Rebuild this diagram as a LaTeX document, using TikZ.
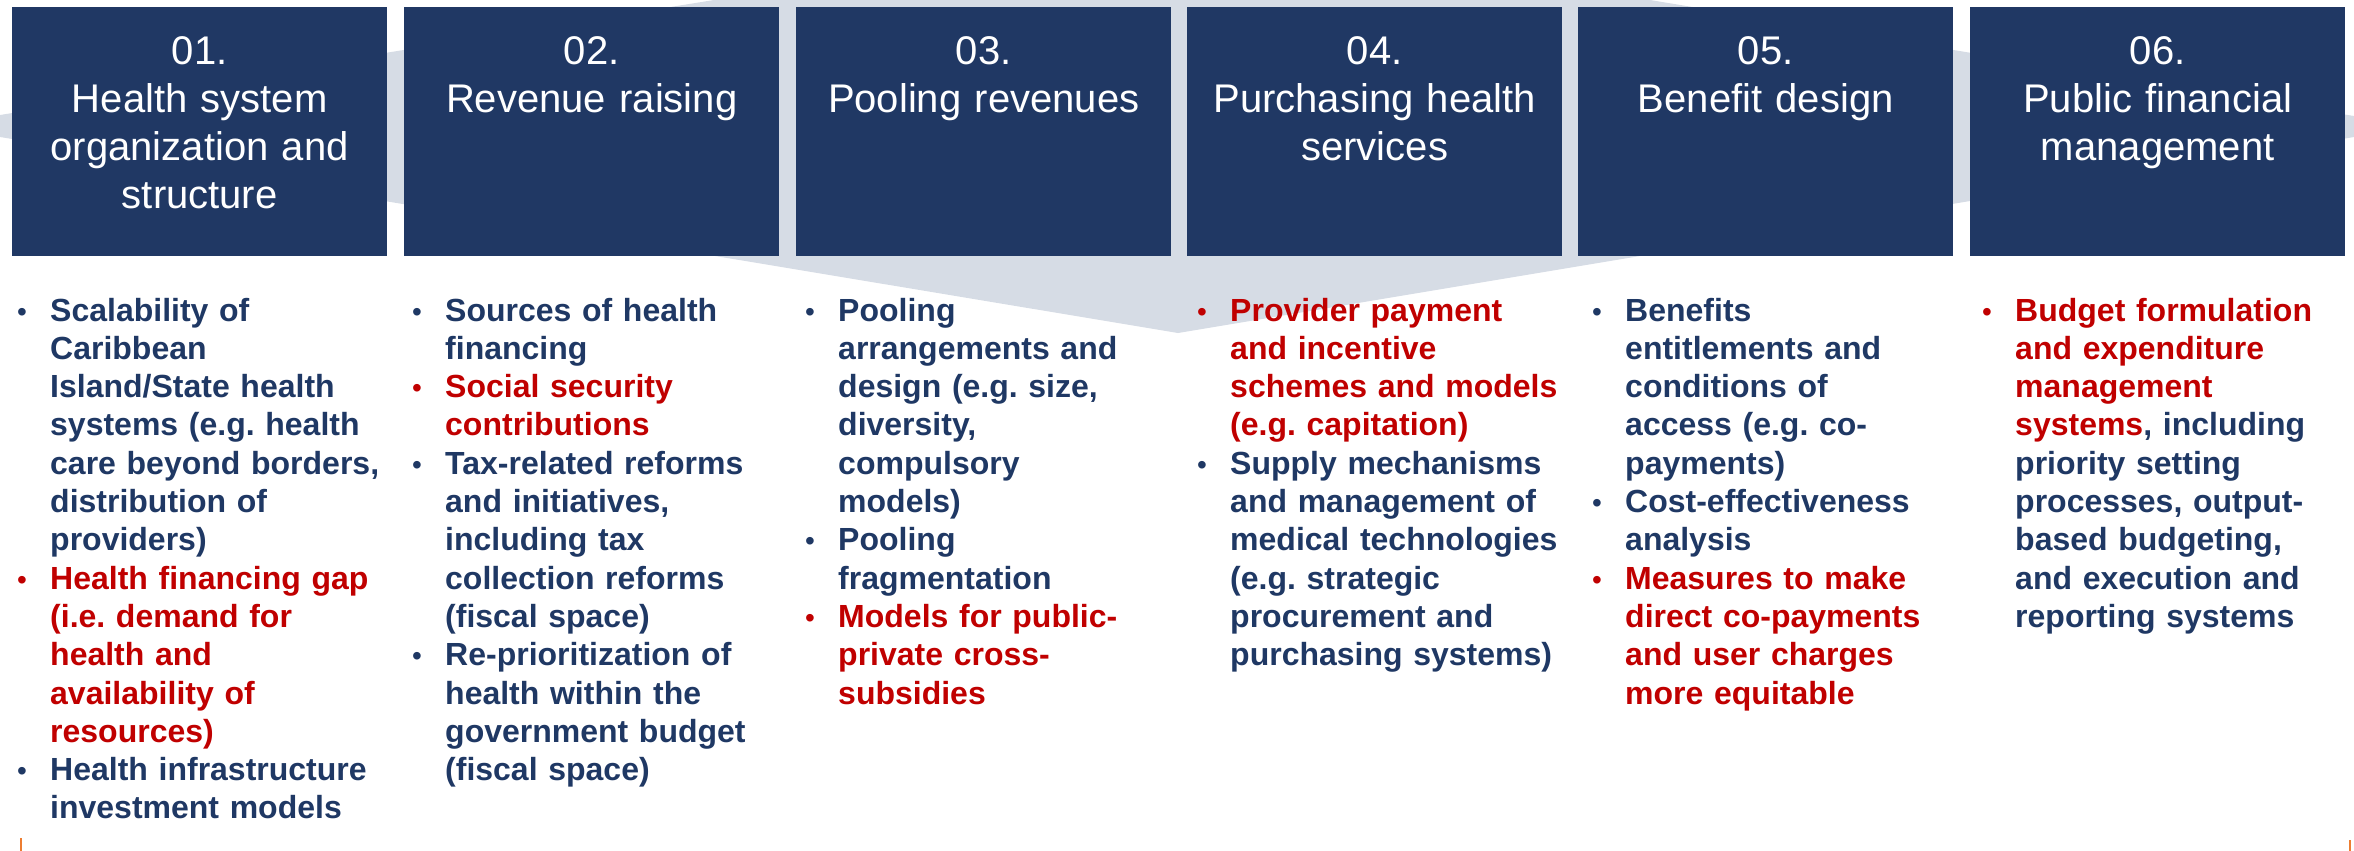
\documentclass[tikz,border=0pt]{standalone}
\usepackage{fontspec}
\setmainfont{Liberation Sans}
\usetikzlibrary{positioning}

\definecolor{navy}{HTML}{203864}
\definecolor{inkblue}{HTML}{1F3864}
\definecolor{alertred}{HTML}{C00000}
\definecolor{veilgrey}{HTML}{D6DCE5}
\definecolor{tickorange}{HTML}{ED7D31}

\begin{document}
\frenchspacing
\begin{tikzpicture}
    [
    x=1pt,
    y=-1pt,
    head/.style={
        rectangle,
        fill=navy,
        minimum width=375pt,
        minimum height=249pt,
        inner sep=0pt,
        anchor=north west
    },
    title/.style={text=white, text width=375pt, align=center, inner sep=0pt, anchor=base,
        font=\fontsize{40}{48}\selectfont},
    itm/.style={anchor=base west, text width=350pt, align=left, inner sep=0pt,
        font=\fontsize{32}{38.3}\selectfont\bfseries\frenchspacing},
    plain/.style={itm, text=inkblue},
    hot/.style={itm, text=alertred},
    dot/.style={anchor=base west, inner sep=0pt, font=\fontsize{28}{28}\selectfont},
    tick/.style={draw=tickorange, line width=2pt}
    ]

    \useasboundingbox (0,0) rectangle (2354,851);

% Background arrow
    \fill[veilgrey] (0,115) -- (714,0) -- (1650,0) -- (2354,116) -- (2354,137) -- (1178,333) -- (0,137) -- cycle;

% Headers
    \node[head] (h1) at (12,7) {};
    \node[head] (h2) at (404,7) {};
    \node[head] (h3) at (796,7) {};
    \node[head] (h4) at (1187,7) {};
    \node[head] (h5) at (1578,7) {};
    \node[head] (h6) at (1970,7) {};

    \node[title] (t1) at ([yshift=-58pt]h1.north) {01.\\Health system\\organization and\\structure};
    \node[title] (t2) at ([yshift=-58pt]h2.north) {02.\\Revenue raising};
    \node[title] (t3) at ([yshift=-58pt]h3.north) {03.\\Pooling revenues};
    \node[title] (t4) at ([yshift=-58pt]h4.north) {04.\\Purchasing health\\services};
    \node[title] (t5) at ([yshift=-58pt]h5.north) {05.\\Benefit design};
    \node[title] (t6) at ([yshift=-58pt]h6.north) {06.\\Public financial\\management};

% Column 1
    \node[dot, text=inkblue] (d1a) at (17,321) {•};
    \node[plain] (i1a) at (50,321) {Scalability of\\Caribbean\\Island/State health\\systems (e.g. health\\care beyond borders,\\distribution of\\providers)};
    \node[dot, text=alertred] (d1b) at (17,589.1) {•};
    \node[hot] (i1b) at (50,589.1) {Health financing gap\\(i.e. demand for\\health and\\availability of\\resources)};
    \node[dot, text=inkblue] (d1c) at (17,780.6) {•};
    \node[plain] (i1c) at (50,780.6) {Health infrastructure\\investment models};

% Column 2
    \node[dot, text=inkblue] (d2a) at (412,321) {•};
    \node[plain] (i2a) at (445,321) {Sources of health\\financing};
    \node[dot, text=alertred] (d2b) at (412,397.6) {•};
    \node[hot] (i2b) at (445,397.6) {Social security\\contributions};
    \node[dot, text=inkblue] (d2c) at (412,474.2) {•};
    \node[plain] (i2c) at (445,474.2) {Tax-related reforms\\and initiatives,\\including tax\\collection reforms\\(fiscal space)};
    \node[dot, text=inkblue] (d2d) at (412,665.7) {•};
    \node[plain] (i2d) at (445,665.7) {Re-prioritization of\\health within the\\government budget\\(fiscal space)};

% Column 3
    \node[dot, text=inkblue] (d3a) at (805,321) {•};
    \node[plain] (i3a) at (838,321) {Pooling\\arrangements and\\design (e.g. size,\\diversity,\\compulsory\\models)};
    \node[dot, text=inkblue] (d3b) at (805,550.8) {•};
    \node[plain] (i3b) at (838,550.8) {Pooling\\fragmentation};
    \node[dot, text=alertred] (d3c) at (805,627.4) {•};
    \node[hot] (i3c) at (838,627.4) {Models for public-\\private cross-\\subsidies};

% Column 4
    \node[dot, text=alertred] (d4a) at (1197,321) {•};
    \node[hot] (i4a) at (1230,321) {Provider payment\\and incentive\\schemes and models\\(e.g. capitation)};
    \node[dot, text=inkblue] (d4b) at (1197,474.2) {•};
    \node[plain] (i4b) at (1230,474.2) {Supply mechanisms\\and management of\\medical technologies\\(e.g. strategic\\procurement and\\purchasing systems)};

% Column 5
    \node[dot, text=inkblue] (d5a) at (1592,321) {•};
    \node[plain] (i5a) at (1625,321) {Benefits\\entitlements and\\conditions of\\access (e.g. co-\\payments)};
    \node[dot, text=inkblue] (d5b) at (1592,512.5) {•};
    \node[plain] (i5b) at (1625,512.5) {Cost-effectiveness\\analysis};
    \node[dot, text=alertred] (d5c) at (1592,589.1) {•};
    \node[hot] (i5c) at (1625,589.1) {Measures to make\\direct co-payments\\and user charges\\more equitable};

% Column 6
    \node[dot, text=alertred] (d6a) at (1982,321) {•};
    \node[plain, text width=330pt] (i6a) at (2015,321) {\textcolor{alertred}{Budget formulation}\\\textcolor{alertred}{and expenditure}\\\textcolor{alertred}{management}\\\textcolor{alertred}{systems}, including\\priority setting\\processes, output-\\based budgeting,\\and execution and\\reporting systems};

% Corner ticks
    \draw[tick] (21,838) -- (21,851);
    \draw[tick] (2350,840) -- (2350,851);

\end{tikzpicture}
\end{document}
